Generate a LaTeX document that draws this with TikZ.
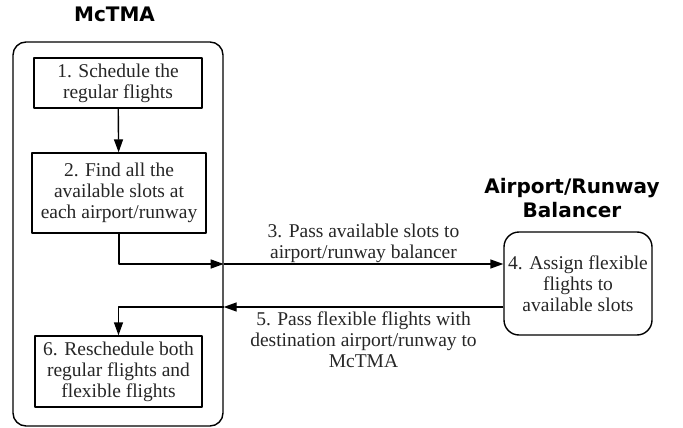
\documentclass[tikz,border=0pt]{standalone}
\usepackage{fontspec}
\setmainfont{Liberation Serif}
\newfontfamily\titlefont{DejaVu Sans}
\usetikzlibrary{arrows.meta}
\begin{document}
\begin{tikzpicture}[x=1pt,y=-1pt,line join=round,>={Triangle[length=13pt,width=9pt]},line width=1.4pt]
\tikzset{stepbox/.style={draw,align=center,inner sep=0pt,text=black!85,font=\fontsize{19.5}{21}\selectfont},
  lbl/.style={align=center,inner sep=3pt,text=black!85,font=\fontsize{19.5}{21}\selectfont},
  heading/.style={align=center,inner sep=0pt,font=\titlefont\bfseries\fontsize{20}{24}\selectfont}}
\useasboundingbox (0,0) rectangle (683,428);
% McTMA side
\node[draw,rounded corners=13pt,minimum width=210pt,minimum height=384pt] (mctma) at (118,234) {};
\node[heading] (tmctma) at (114.5,14) {McTMA};
\node[stepbox,minimum width=168pt,minimum height=50pt] (s1) at (118,83) {1. Schedule the\\regular flights};
\node[stepbox,minimum width=174pt,minimum height=80pt] (s2) at (119,193) {2. Find all the\\available slots at\\each airport/runway};
\node[stepbox,minimum width=167pt,minimum height=71pt] (s6) at (118.5,371.5) {6. Reschedule both\\regular flights and\\flexible flights};
% balancer side
\node[heading] (tbal) at (572,198) {Airport/Runway\\Balancer};
\node[stepbox,rounded corners=15pt,minimum width=148pt,minimum height=103pt] (s4) at (578,283.5) {4. Assign flexible\\flights to\\available slots};
\path (mctma.east) ++(0,30) coordinate (p3);
\path (mctma.east) ++(0,73) coordinate (p5);
% connectors
\draw[->] (s1) -- (s2);
\draw[->] (s2.south) |- (p3);
\draw[->] (p3) -- (p3 -| s4.west) node[lbl,midway,above,inner sep=1pt] {3. Pass available slots to\\airport/runway balancer};
\draw[->] (p5 -| s4.west) -- (p5) node[lbl,midway,below,inner sep=4pt] {5. Pass flexible flights with\\destination airport/runway to\\McTMA};
\draw[->] (p5) -| (s6.north);
\end{tikzpicture}
\end{document}
